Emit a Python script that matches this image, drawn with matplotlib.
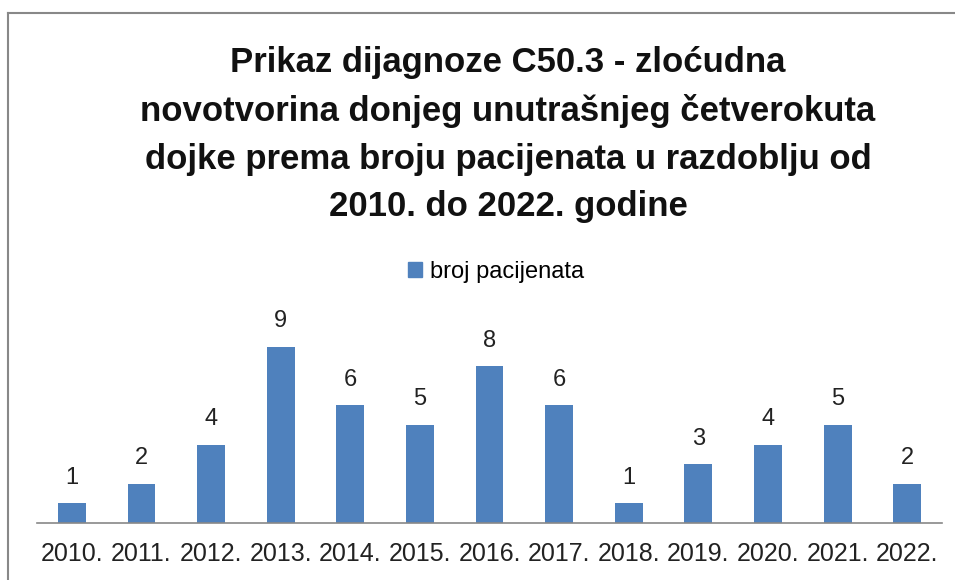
import matplotlib
matplotlib.use("Agg")
import matplotlib.pyplot as plt
from matplotlib.lines import Line2D

years = ["2010.", "2011.", "2012.", "2013.", "2014.", "2015.", "2016.",
         "2017.", "2018.", "2019.", "2020.", "2021.", "2022."]
patients = [1, 2, 4, 9, 6, 5, 8, 6, 1, 3, 4, 5, 2]
series_name = "broj pacijenata"
title = ("Prikaz dijagnoze C50.3 - zloćudna\n"
         "novotvorina donjeg unutrašnjeg četverokuta\n"
         "dojke prema broju pacijenata u razdoblju od\n"
         "2010. do 2022. godine")

plt.rcParams['font.family'] = ['Liberation Sans', 'DejaVu Sans']
color = "#4F81BD"

fig = plt.figure(figsize=(9.55, 5.8), dpi=100)
ax = fig.add_axes([37/955, 1-523/580, 905/955, 196/580])

x = list(range(len(years)))
bars = ax.bar(x, patients, width=0.4, color=color)
ax.set_xlim(-0.5, len(years)-0.5)
ax.set_ylim(0, 10)
ax.set_yticks([])
ax.set_xticks(x)
ax.set_xticklabels(years, fontsize=18, color="#222222")
ax.tick_params(axis='x', length=0, pad=14)
for s in ['top', 'right', 'left']:
    ax.spines[s].set_visible(False)
ax.spines['bottom'].set_color("#888888")
ax.spines['bottom'].set_linewidth(1.2)

for xi, v in zip(x, patients):
    ax.annotate(str(v), (xi, v), xytext=(0, 18.5), textcoords='offset points',
                ha='center', va='center', fontsize=17, color="#222222")

fig.text(508/955, 1-134.5/580, title, ha='center', va='center', fontsize=25,
         fontweight='bold', linespacing=1.56, color="#111111")

handle = plt.Rectangle((0, 0), 1, 1, color=color)
fig.legend([handle], [series_name], loc='center', bbox_to_anchor=(496/955, 1-272/580),
           frameon=False, fontsize=17, handlelength=0.6, handleheight=0.6,
           handletextpad=0.3)

# chart border (left and top visible)
fig.add_artist(Line2D([8/955, 8/955], [0, 1-13/580], transform=fig.transFigure,
                      color="#888888", lw=1.5))
fig.add_artist(Line2D([8/955, 1], [1-13/580, 1-13/580], transform=fig.transFigure,
                      color="#888888", lw=1.5))

fig.savefig("out.png", dpi=100, facecolor="white")
